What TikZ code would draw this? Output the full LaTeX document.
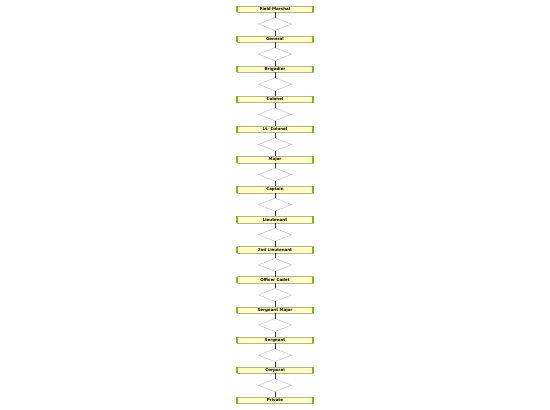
\documentclass[tikz,border=0pt]{standalone}
\usepackage{fontspec}
\usetikzlibrary{positioning,shapes.geometric}
\newfontfamily\rankfont{DejaVu Sans}
\definecolor{rankfill}{HTML}{FFFFC4}
\definecolor{rankedge}{HTML}{B4B48C}
\definecolor{rankside}{HTML}{80B41E}
\definecolor{gateedge}{HTML}{C4C4E0}
\definecolor{linkline}{HTML}{333333}

\begin{document}
\begin{tikzpicture}[
    x=1pt, y=1pt,
    node distance=5.3pt,
    rankbox/.style={rectangle, draw=rankedge, line width=0.4pt, fill=rankfill,
      minimum width=76pt, minimum height=6.5pt, inner sep=0pt, outer sep=0pt,
      font=\rankfont\bfseries\fontsize{4}{4}\selectfont},
    sidebar/.style={draw=rankside, line width=1.5pt},
    gate/.style={diamond, draw=gateedge, line width=0.5pt, fill=white,
      minimum width=33pt, minimum height=13pt, inner sep=0pt, outer sep=0pt},
    link/.style={draw=linkline, line width=0.6pt}
  ]
  \useasboundingbox (0,0) rectangle (550,410);

  % Rank ladder, top to bottom
  \foreach \rank [count=\i, remember=\i as \j (initially 0)] in
    {Field Marshal, General, Brigadier, Colonel, Lt. Colonel, Major, Captain,
     Lieutenant, 2nd Lieutenant, Officer Cadet, Sergeant Major, Sergeant,
     Corporal, Private} {
    \ifnum\i=1
      \node[rankbox] (r1) at (275,401) {\rank};
    \else
      \node[gate, below=of r\j] (d\j) {};
      \node[rankbox, below=of d\j] (r\i) {\rank};
      \draw[link] (r\j) -- (d\j);
      \draw[link] (d\j) -- (r\i);
    \fi
    % green side bars
    \draw[sidebar] (r\i.north west) -- (r\i.south west);
    \draw[sidebar] (r\i.north east) -- (r\i.south east);
  }
\end{tikzpicture}
\end{document}
